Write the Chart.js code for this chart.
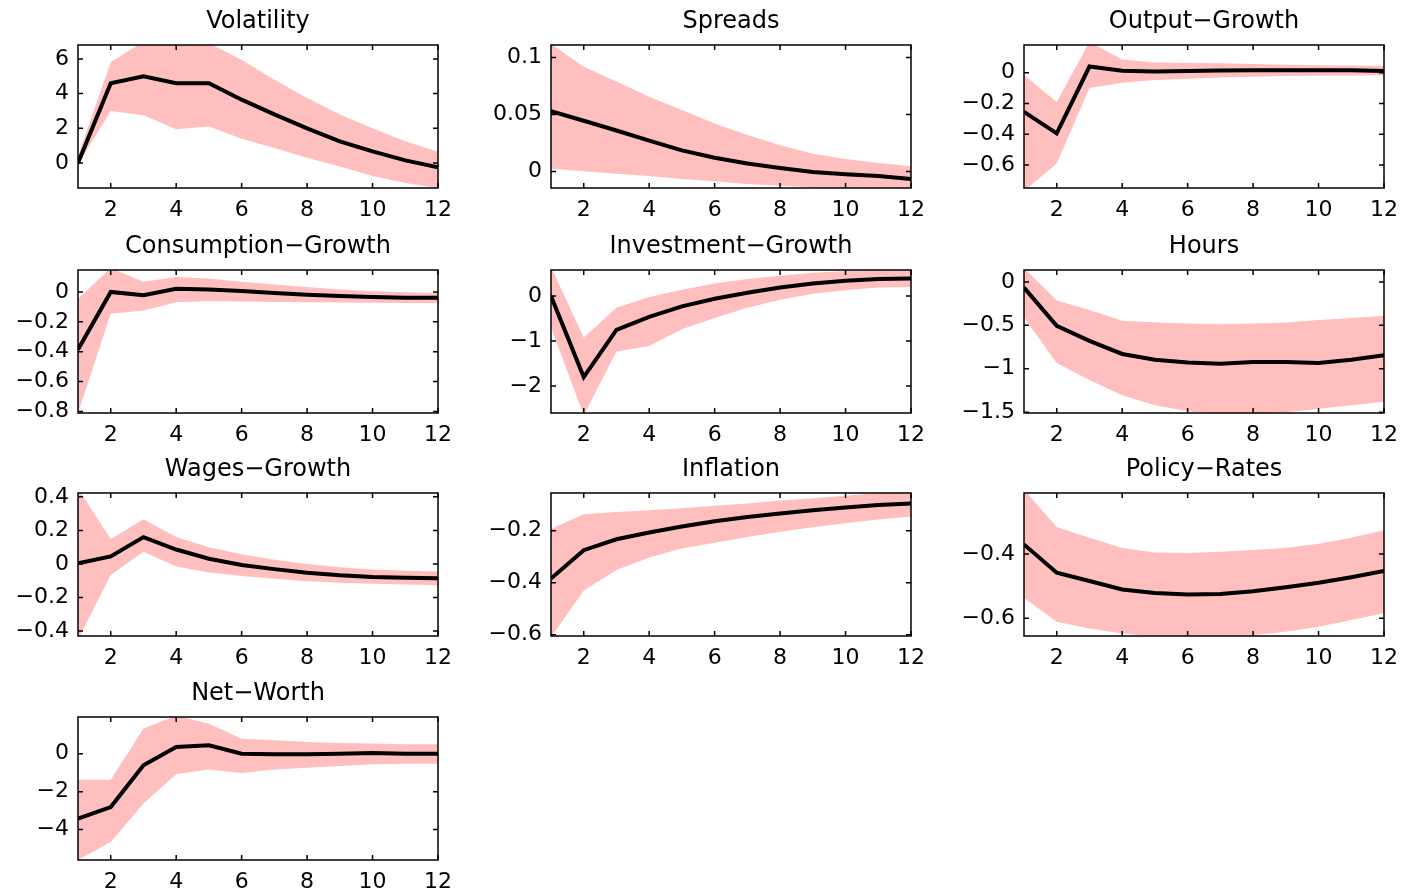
<!DOCTYPE html>
<html lang="en">
<head>
  <meta charset="UTF-8">
  <title>Impulse responses</title>
  <script src="https://cdn.jsdelivr.net/npm/chart.js"></script>
  <style>
    body {
      margin: 0;
      background: #fff;
      width: 1404px;
      height: 892px;
      overflow: hidden;
      position: relative;
    }

    .panel {
      position: absolute;
      width: 516px;
      height: 228px;
    }
  </style>
</head>
<body>
  <script>
    // horizons and x ticks shared by every panel
    const horizon = [1, 2, 3, 4, 5, 6, 7, 8, 9, 10, 11, 12];
    const xTicks = [2, 4, 6, 8, 10, 12];

    const volMedian = [0, 4.6, 5.0, 4.6, 4.6, 3.65, 2.8, 2.0, 1.25, 0.67, 0.15, -0.25];
    const volUpper  = [0.4, 5.8, 7.0, 7.1, 6.9, 5.95, 4.8, 3.75, 2.8, 2.0, 1.25, 0.65];
    const volLower  = [-0.1, 3.0, 2.75, 1.95, 2.1, 1.4, 0.87, 0.3, -0.2, -0.75, -1.15, -1.45];
    const volTicks  = [0, 2, 4, 6];

    const sprMedian = [0.053, 0.0445, 0.036, 0.027, 0.0185, 0.012, 0.007, 0.003, -0.0005, -0.0025, -0.004, -0.0065];
    const sprUpper  = [0.112, 0.092, 0.079, 0.0655, 0.054, 0.042, 0.032, 0.023, 0.0155, 0.011, 0.0075, 0.0045];
    const sprLower  = [0.0025, 0.0003, -0.002, -0.004, -0.0065, -0.0085, -0.011, -0.0125, -0.014, -0.015, -0.016, -0.0165];
    const sprTicks  = [0, 0.05, 0.1];

    const outMedian = [-0.255, -0.395, 0.04, 0.013, 0.008, 0.011, 0.014, 0.016, 0.016, 0.015, 0.016, 0.011];
    const outUpper  = [-0.015, -0.19, 0.2, 0.085, 0.066, 0.064, 0.061, 0.057, 0.051, 0.048, 0.046, 0.043];
    const outLower  = [-0.77, -0.59, -0.1, -0.065, -0.048, -0.039, -0.031, -0.026, -0.022, -0.02, -0.018, -0.017];
    const outTicks  = [-0.6, -0.4, -0.2, 0];

    const conMedian = [-0.385, 0.0, -0.022, 0.022, 0.016, 0.007, -0.007, -0.018, -0.027, -0.034, -0.038, -0.038];
    const conUpper  = [-0.045, 0.16, 0.068, 0.1, 0.09, 0.068, 0.05, 0.034, 0.016, 0.005, -0.002, -0.007];
    const conLower  = [-0.81, -0.146, -0.124, -0.068, -0.061, -0.063, -0.067, -0.068, -0.07, -0.072, -0.074, -0.074];
    const conTicks  = [-0.8, -0.6, -0.4, -0.2, 0];

    const invMedian = [0, -1.8, -0.75, -0.46, -0.23, -0.06, 0.075, 0.19, 0.28, 0.34, 0.38, 0.39];
    const invUpper  = [0.65, -0.92, -0.26, -0.02, 0.14, 0.28, 0.38, 0.45, 0.52, 0.56, 0.59, 0.6];
    const invLower  = [-0.7, -2.65, -1.23, -1.11, -0.74, -0.49, -0.26, -0.08, 0.05, 0.13, 0.19, 0.2];
    const invTicks  = [-2, -1, 0];

    const hrsMedian = [-0.066, -0.506, -0.68, -0.83, -0.896, -0.927, -0.943, -0.923, -0.923, -0.935, -0.896, -0.845];
    const hrsUpper  = [0.16, -0.214, -0.323, -0.448, -0.467, -0.479, -0.487, -0.479, -0.467, -0.44, -0.417, -0.39];
    const hrsLower  = [-0.41, -0.935, -1.13, -1.305, -1.42, -1.49, -1.53, -1.53, -1.5, -1.46, -1.42, -1.38];
    const hrsTicks  = [-1.5, -1, -0.5, 0];

    const wagMedian = [0.004, 0.045, 0.16, 0.086, 0.031, -0.006, -0.031, -0.053, -0.068, -0.078, -0.082, -0.086];
    const wagUpper  = [0.45, 0.148, 0.267, 0.16, 0.099, 0.057, 0.025, 0, -0.02, -0.033, -0.041, -0.045];
    const wagLower  = [-0.45, -0.066, 0.072, -0.016, -0.051, -0.072, -0.088, -0.103, -0.113, -0.119, -0.123, -0.127];
    const wagTicks  = [-0.4, -0.2, 0, 0.2, 0.4];

    const infMedian = [-0.384, -0.275, -0.233, -0.207, -0.184, -0.164, -0.147, -0.134, -0.121, -0.111, -0.101, -0.095];
    const infUpper  = [-0.193, -0.137, -0.128, -0.121, -0.114, -0.104, -0.095, -0.084, -0.075, -0.066, -0.055, -0.05];
    const infLower  = [-0.61, -0.43, -0.351, -0.303, -0.268, -0.246, -0.224, -0.204, -0.187, -0.171, -0.157, -0.145];
    const infTicks  = [-0.6, -0.4, -0.2];

    const polMedian = [-0.37, -0.458, -0.484, -0.51, -0.521, -0.526, -0.524, -0.516, -0.503, -0.489, -0.472, -0.453];
    const polUpper  = [-0.2, -0.316, -0.349, -0.381, -0.395, -0.397, -0.393, -0.387, -0.381, -0.368, -0.349, -0.326];
    const polLower  = [-0.537, -0.611, -0.632, -0.647, -0.657, -0.66, -0.66, -0.653, -0.642, -0.626, -0.605, -0.584];
    const polTicks  = [-0.6, -0.4];

    const nwMedian = [-3.42, -2.81, -0.61, 0.35, 0.44, 0, -0.035, -0.035, 0, 0.035, 0, 0];
    const nwUpper  = [-1.37, -1.37, 1.32, 2.0, 1.58, 0.79, 0.7, 0.61, 0.56, 0.53, 0.49, 0.49];
    const nwLower  = [-5.6, -4.65, -2.63, -1.09, -0.84, -1.02, -0.84, -0.74, -0.65, -0.56, -0.53, -0.53];
    const nwTicks  = [-4, -2, 0];

    const panels = [
      { title: 'Volatility', median: volMedian, upper: volUpper, lower: volLower, ticks: volTicks, min: -1.44, max: 6.8 },
      { title: 'Spreads', median: sprMedian, upper: sprUpper, lower: sprLower, ticks: sprTicks, min: -0.0145, max: 0.111 },
      { title: 'Output\u2212Growth', median: outMedian, upper: outUpper, lower: outLower, ticks: outTicks, min: -0.75, max: 0.18 },
      { title: 'Consumption\u2212Growth', median: conMedian, upper: conUpper, lower: conLower, ticks: conTicks, min: -0.81, max: 0.147 },
      { title: 'Investment\u2212Growth', median: invMedian, upper: invUpper, lower: invLower, ticks: invTicks, min: -2.6, max: 0.58 },
      { title: 'Hours', median: hrsMedian, upper: hrsUpper, lower: hrsLower, ticks: hrsTicks, min: -1.51, max: 0.137 },
      { title: 'Wages\u2212Growth', median: wagMedian, upper: wagUpper, lower: wagLower, ticks: wagTicks, min: -0.43, max: 0.423 },
      { title: 'Inflation', median: infMedian, upper: infUpper, lower: infLower, ticks: infTicks, min: -0.605, max: -0.055 },
      { title: 'Policy\u2212Rates', median: polMedian, upper: polUpper, lower: polLower, ticks: polTicks, min: -0.655, max: -0.21 },
      { title: 'Net\u2212Worth', median: nwMedian, upper: nwUpper, lower: nwLower, ticks: nwTicks, min: -5.6, max: 1.93 }
    ];

    const FONT = "'DejaVu Sans', sans-serif";
    const BAND = '#ffbfbf';
    const AXIS_W = 78;
    const TITLE_H = 45;
    const TITLE_SIZE = 24;
    const X_AXIS_H = 40;
    const colLeft = [78, 551, 1024];
    const rowTop = [45, 270, 493, 717];

    const fmt = v => String(+v.toFixed(4)).replace('-', '\u2212');
    const toPts = arr => arr.map((y, i) => ({ x: horizon[i], y }));

    // matlab style box with inward ticks on all four sides
    const boxPlugin = {
      id: 'box',
      afterDatasetsDraw(chart) {
        const { ctx, chartArea: a, scales: { x, y } } = chart;
        const len = 5;
        ctx.save();
        ctx.strokeStyle = '#000';
        ctx.lineWidth = 1.5;
        ctx.strokeRect(a.left, a.top, a.width, a.height);
        ctx.beginPath();
        x.ticks.forEach(t => {
          const px = x.getPixelForValue(t.value);
          ctx.moveTo(px, a.bottom); ctx.lineTo(px, a.bottom - len);
          ctx.moveTo(px, a.top); ctx.lineTo(px, a.top + len);
        });
        y.ticks.forEach(t => {
          const py = y.getPixelForValue(t.value);
          ctx.moveTo(a.left, py); ctx.lineTo(a.left + len, py);
          ctx.moveTo(a.right, py); ctx.lineTo(a.right - len, py);
        });
        ctx.stroke();
        ctx.restore();
      }
    };

    panels.forEach((p, i) => {
      const div = document.createElement('div');
      div.className = 'panel';
      div.style.left = (colLeft[i % 3] - AXIS_W) + 'px';
      div.style.top = (rowTop[Math.floor(i / 3)] - TITLE_H) + 'px';
      const canvas = document.createElement('canvas');
      div.appendChild(canvas);
      document.body.appendChild(div);

      new Chart(canvas, {
        type: 'line',
        data: {
          datasets: [
            { data: toPts(p.median), borderColor: '#000', borderWidth: 4, pointRadius: 0, fill: false, tension: 0 },
            { data: toPts(p.upper), borderColor: 'rgba(0,0,0,0)', borderWidth: 0, pointRadius: 0, backgroundColor: BAND, fill: '+1' },
            { data: toPts(p.lower), borderColor: 'rgba(0,0,0,0)', borderWidth: 0, pointRadius: 0, fill: false }
          ]
        },
        options: {
          responsive: true,
          maintainAspectRatio: false,
          animation: false,
          layout: { padding: { left: 0, right: AXIS_W, top: 0, bottom: 0 } },
          plugins: {
            legend: { display: false },
            tooltip: { enabled: false },
            title: {
              display: true,
              fullSize: false,
              text: p.title,
              color: '#000',
              font: { family: FONT, size: TITLE_SIZE, weight: 'normal' },
              padding: { top: 7, bottom: TITLE_H - 7 - TITLE_SIZE * 1.2 }
            }
          },
          scales: {
            x: {
              type: 'linear',
              min: 1,
              max: 12,
              grid: { display: false, drawTicks: false },
              border: { display: false },
              afterBuildTicks: s => { s.ticks = xTicks.map(v => ({ value: v })); },
              afterFit: s => { s.height = X_AXIS_H; s.paddingLeft = 0; s.paddingRight = 0; },
              ticks: { color: '#000', font: { family: FONT, size: 22 }, padding: 9, maxRotation: 0, autoSkip: false }
            },
            y: {
              min: p.min,
              max: p.max,
              grid: { display: false, drawTicks: false },
              border: { display: false },
              afterBuildTicks: s => { s.ticks = p.ticks.map(v => ({ value: v })); },
              afterFit: s => { s.width = AXIS_W; s.paddingTop = 0; s.paddingBottom = 0; },
              ticks: { color: '#000', font: { family: FONT, size: 22 }, padding: 9, autoSkip: false, callback: v => fmt(v) }
            }
          }
        },
        plugins: [boxPlugin]
      });
    });
  </script>
</body>
</html>
